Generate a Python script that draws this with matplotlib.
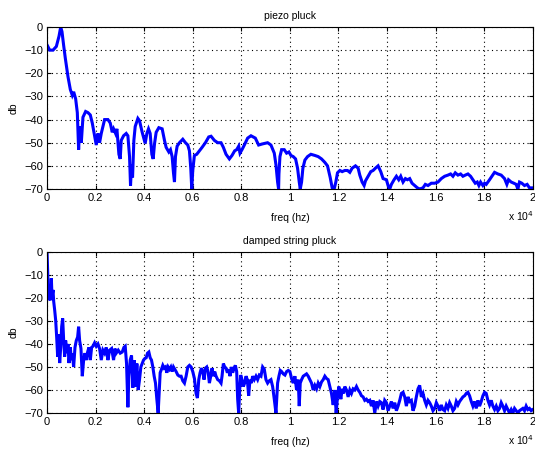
import matplotlib
matplotlib.use("Agg")
import matplotlib.pyplot as plt

# piezo pluck spectrum (Hz, dB)
piezo_hz = [0, 110, 247, 384, 493, 562, 616, 685, 753, 863, 959, 1041, 1096, 1178,
            1247, 1301, 1342, 1411, 1479, 1589, 1685, 1781, 1863, 1959, 2027, 2096,
            2164, 2233, 2370, 2507, 2603, 2685, 2740, 2822, 2877, 2959, 3014, 3055,
            3151, 3260, 3329, 3397, 3438, 3479, 3521, 3575, 3630, 3740, 3808, 3918,
            4041, 4110, 4178, 4247, 4315, 4370, 4425, 4493, 4603, 4740, 4836, 4904,
            5014, 5082, 5151, 5206, 5247, 5288, 5356, 5452, 5589, 5699, 5795, 5863,
            5918, 5959, 6000, 6068, 6164, 6274, 6384, 6521, 6658, 6753, 6890, 7027,
            7164, 7260, 7370, 7507, 7616, 7726, 7808, 7890, 7945, 8027, 8123, 8260,
            8397, 8575, 8712, 8877, 9082, 9219, 9356, 9425, 9493, 9534,
            9548, 9589, 9658, 9767, 9863, 9959, 10041, 10137, 10233, 10315, 10384,
            10425, 10480, 10534, 10617, 10726, 10863, 11027, 11164, 11301, 11438,
            11548, 11658, 11740, 11822, 11890, 11959, 12055, 12151, 12260, 12370,
            12466, 12562, 12699, 12808, 12877, 12973, 13055, 13110, 13219, 13329,
            13425, 13521, 13630, 13740, 13836, 13973, 14041, 14110, 14178, 14288,
            14384, 14480, 14562, 14658, 14754, 14836, 14932, 15027, 15137, 15247,
            15342, 15479, 15575, 15685, 15822, 15959, 16096, 16233, 16370, 16507,
            16616, 16712, 16808, 16918, 17027, 17123, 17219, 17329, 17438, 17534,
            17630, 17712, 17781, 17849, 17945, 18014, 18082, 18219, 18315, 18425,
            18562, 18699, 18836, 18932, 19000, 19110, 19219, 19315, 19384, 19452,
            19548, 19658, 19767, 19863, 20000]
piezo_db = [-7.7, -10, -10, -8.4, -4, 0, -2, -8, -13.5, -21.5, -27, -29.5, -28, -31,
            -37, -53, -43, -50, -39, -36.5, -37, -38, -41.5, -47, -51, -46,
            -50, -46, -40, -40, -41.5, -45.5, -44, -46, -44, -55, -57, -49,
            -47, -46, -47, -56, -68.5, -59.5, -65, -49, -43, -39.5, -40.5, -45.5,
            -50.3, -46, -44, -46, -55, -57, -50.5, -45.5, -43.5, -44, -49, -52,
            -54, -53, -56, -63, -67, -56, -51.5, -50, -48.5, -50, -51, -53.5,
            -61, -70, -62, -55.5, -55, -53.5, -52, -50, -47.5, -47.2, -49, -50,
            -50, -52, -55, -57, -55.5, -53.5, -53, -51.5, -54.5, -53, -51, -48,
            -47, -48, -51, -50.5, -50, -51, -54.5, -59.5, -67, -70,
            -63.5, -56, -53, -53, -54.5, -54, -55.5, -56, -57, -61, -67,
            -70, -67, -61, -57.5, -56, -55, -55.5, -56, -57, -58.5,
            -60, -65, -69.5, -70, -67, -63, -62, -62.5, -62, -62,
            -62.8, -61, -60, -61, -64, -67, -68.5, -66.5, -64.5, -62.5,
            -62, -61, -60, -62.5, -65.5, -66, -68.5, -70, -68, -66,
            -64.5, -66, -64.5, -67, -65.5, -66, -65.5, -67.5, -68.5, -69.5,
            -70, -69.5, -68, -68.5, -67.5, -67.5, -67, -65.5, -64.5, -64,
            -63.5, -64.5, -63, -64, -63.5, -64.5, -64, -63.5, -64.5, -66,
            -67.5, -67, -68.5, -67, -68.5, -67.5, -68, -66, -64.5, -62.8,
            -63.5, -64, -65.5, -68, -66, -67, -67.5, -68, -70, -67,
            -67.5, -68.5, -68, -69.5, -69.5]

# damped string pluck spectrum (Hz, dB)
string_hz = [0, 27, 55, 82, 110, 151, 178, 205, 247, 274, 315, 356, 397, 438, 479,
             521, 562, 603, 644, 685, 726, 767, 822, 863, 904, 959, 1000, 1041, 1096,
             1151, 1205, 1260, 1301, 1342, 1397, 1452, 1507, 1562, 1616, 1671, 1726,
             1781, 1836, 1890, 1959, 2027, 2096, 2164, 2233, 2301, 2370, 2438, 2507,
             2575, 2658, 2740, 2795, 2849, 2932, 3014, 3096, 3164, 3219, 3274, 3329,
             3370, 3425, 3479, 3534, 3589, 3644, 3699, 3753, 3808, 3863, 3918, 3973,
             4027, 4082, 4137, 4192, 4247, 4301, 4356, 4411, 4466, 4521, 4575, 4616,
             4658, 4712, 4767, 4822, 4877, 4932, 4986, 5041, 5096, 5151, 5206, 5260,
             5315, 5384, 5452, 5521, 5589, 5658, 5726, 5795, 5863, 5932, 6000, 6068,
             6137, 6192, 6247, 6301, 6356, 6411, 6466, 6521, 6575, 6630, 6685, 6740,
             6795, 6849, 6904, 6959, 7027, 7096, 7164, 7205, 7260, 7315, 7370, 7425,
             7479, 7534, 7589, 7644, 7699, 7753, 7808, 7849, 7890, 7932, 7973, 8027,
             8082, 8137, 8192, 8247, 8301, 8356, 8411, 8466, 8534, 8603, 8671, 8740,
             8808, 8877, 8945, 9014, 9082, 9151, 9219, 9288, 9356, 9425, 9493,
             9548, 9603, 9658, 9726, 9795, 9863, 9932, 10000, 10068, 10137, 10205,
             10274, 10342, 10384, 10425, 10480, 10548, 10617, 10685, 10753, 10822,
             10890, 10959, 11027, 11096, 11164, 11233, 11301, 11370, 11438, 11507,
             11575, 11644, 11712, 11781, 11849, 11904, 11959, 12014, 12096, 12151,
             12205, 12260, 12329, 12397, 12466, 12534, 12603, 12671, 12740, 12808,
             12877, 12945, 13014, 13082, 13151, 13219, 13288, 13356, 13425, 13493,
             13562, 13630, 13699, 13767, 13836, 13904, 13973, 14041, 14110, 14178,
             14247, 14315, 14384, 14452, 14521, 14589, 14658, 14726, 14795, 14863,
             14932, 15000, 15068, 15137, 15205, 15274, 15342, 15411, 15479, 15548,
             15616, 15685, 15753, 15822, 15890, 15959, 16027, 16096, 16164, 16233,
             16301, 16370, 16438, 16507, 16575, 16644, 16712, 16781, 16849, 16918,
             16986, 17055, 17123, 17192, 17260, 17329, 17397, 17466, 17534, 17603,
             17671, 17740, 17808, 17877, 17945, 18014, 18082, 18151, 18219, 18288,
             18356, 18425, 18493, 18562, 18630, 18699, 18767, 18836, 18904, 18973,
             19041, 19110, 19178, 19247, 19315, 19384, 19452, 19521, 19589, 19658,
             19726, 19795, 19863, 19932, 20000]
string_db = [0, -8, -17.5, -21, -16.5, -21, -11.5, -19.5, -16.5, -21.5, -25.3, -29.7,
             -37, -45.5, -35.7, -48.3, -41.5, -32.5, -28.9, -38.5, -45.5, -38.5, -44,
             -40, -48.3, -41.5, -47, -44, -50, -41.5, -38.5, -37, -32.5, -38.5, -42,
             -54, -47, -44, -47, -43.5, -41.5, -47, -41.5, -41, -39.5, -41, -40, -42,
             -47, -42.7, -44, -41.5, -47, -42.7, -42, -47, -42, -44, -42.7, -44,
             -43.5, -41.5, -41, -48.5, -67.5, -54, -47, -45, -59, -47, -58.5, -48.5,
             -60, -55.5, -50, -48.5, -47, -46.3, -46, -44, -43.5, -46, -47, -50, -54,
             -57, -64, -70, -61.5, -52.5, -51, -49.3, -50.5, -50, -52.5, -50, -51,
             -50, -52, -50, -51, -52, -53.5, -54, -54, -56, -57, -54, -50, -49.3,
             -50, -52, -55, -61.5, -63.5, -55.5, -52.5, -50.5, -52, -55.5, -50.5,
             -50, -52, -57, -54, -50.5, -54, -52, -54, -55.5, -56, -57, -54, -48.5,
             -50, -50.5, -52.5, -51, -54, -50, -52.5, -50.5, -49.3, -52, -64, -70,
             -60, -53.5, -55.5, -58.5, -57, -54, -55.5, -62.5, -55.5, -57, -54,
             -55.5, -54, -55.5, -53.5, -54, -50, -51, -55.5, -57, -56, -55.5, -58.5,
             -64, -70, -57,
             -54, -51.5, -52, -53, -53.5, -52, -51.5, -52, -55, -57, -54,
             -60, -55.5, -67, -57, -55.5, -54, -53.5, -53, -54, -55.5,
             -57, -60, -58, -59.5, -57, -58.5, -56.5, -55.5, -54, -55,
             -55.5, -58.5, -61.5, -66.5, -60, -70, -63, -58.5, -64, -59.5,
             -61.5, -58.5, -60, -63, -60, -61.5, -59.5, -60, -58.5, -60,
             -61, -62.5, -63, -64.5, -64, -65, -64.5, -67, -64.5, -70,
             -65, -67, -65, -65.5, -68.5, -64.5, -65.5, -69, -67, -65,
             -68, -65.5, -69, -67, -64.5, -61.5, -61, -63, -67, -63,
             -65, -64.5, -69, -67, -63, -59.5, -58, -63, -61.5, -64.5,
             -66.5, -64.5, -65.5, -67, -69, -68, -65.5, -67, -69, -66.5,
             -68.5, -69, -66.5, -68, -65.5, -67, -69, -68, -65, -66.5,
             -65, -64, -63, -62.5, -61.5, -61, -62.5, -65, -67, -65,
             -68, -64.5, -67, -65, -62.5, -61, -61.5, -64.5, -66.5, -64.5,
             -67, -68.5, -67, -69, -68, -65.5, -67, -69, -67, -68.5,
             -70, -68.5, -70, -68, -69, -70, -69, -68.5, -68, -69,
             -67, -68.5, -68, -69, -68.5]

xtick_hz = [0, 2000, 4000, 6000, 8000, 10000, 12000, 14000, 16000, 18000, 20000]
xtick_labels = ["0", "0.2", "0.4", "0.6", "0.8", "1", "1.2", "1.4", "1.6", "1.8", "2"]
ytick_db = [0, -10, -20, -30, -40, -50, -60, -70]
titles = ["piezo pluck", "damped string pluck"]

plt.rcParams["font.family"] = ["Liberation Sans", "DejaVu Sans"]
plt.rcParams["font.size"] = 8

fig = plt.figure(figsize=(5.35, 4.5), dpi=100)
ax1 = fig.add_axes([0.0879, 0.58, 0.908, 0.36])
ax2 = fig.add_axes([0.0879, 0.0822, 0.908, 0.358])

for ax, hz, db, title in [(ax1, piezo_hz, piezo_db, titles[0]),
                          (ax2, string_hz, string_db, titles[1])]:
    ax.plot(hz, db, color="#0000ff", lw=2.2, solid_joinstyle="miter")
    ax.set_xlim(0, 20000)
    ax.set_ylim(-70, 0)
    ax.set_xticks(xtick_hz)
    ax.set_xticklabels(xtick_labels)
    ax.set_yticks(ytick_db)
    ax.grid(True, color="black", linestyle=(0, (1, 3)), linewidth=0.8)
    ax.tick_params(direction="in", top=True, right=True, length=3, width=0.8, pad=3)
    for s in ax.spines.values():
        s.set_linewidth(0.8)
    ax.set_title(title, fontsize=7.5, pad=6)
    ax.set_xlabel("freq (hz)", fontsize=7.5, labelpad=7)
    ax.set_ylabel("db", fontsize=7.5, labelpad=4)
    ax.text(1.003, -0.17, r"x 10$^{4}$", transform=ax.transAxes,
            ha="right", va="center", fontsize=7.5)

fig.savefig("out.png", dpi=100)
